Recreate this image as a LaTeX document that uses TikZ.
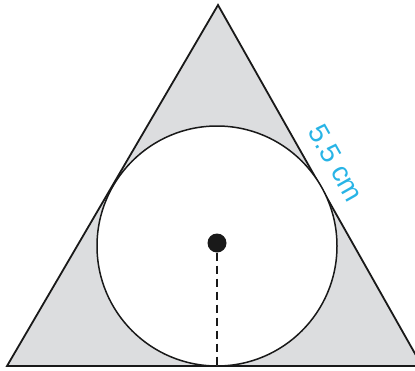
\documentclass[tikz,border=0pt]{standalone}
\usepackage{fontspec}
\setmainfont{Liberation Sans}
\definecolor{tgray}{RGB}{220,221,223}
\definecolor{lblcyan}{RGB}{40,180,230}
\begin{document}
\begin{tikzpicture}[x=1pt,y=-1pt,
  edge/.style={line width=1.8pt,line join=miter,draw=black!90},
  lbl/.style={text=lblcyan,font=\fontsize{28}{30}\selectfont,inner sep=0pt}]
\useasboundingbox (0,0) rectangle (415,370);
\coordinate (A) at (7,366);
\coordinate (B) at (422,366);
\coordinate (C) at (218,5);
\draw[edge,fill=tgray] (A) -- (B) -- (C) -- cycle;
\node[circle,draw=black!90,line width=1.5pt,fill=white,minimum size=240pt,inner sep=0pt] (inc) at (217,246) {};
\node[circle,fill=black!90,minimum size=19pt,inner sep=0pt] (ctr) at (217,243) {};
\coordinate (bot) at (217,366);
\draw[line width=1.5pt,dash pattern=on 8pt off 5pt,draw=black!90] (ctr.south) -- (bot);
\node[lbl,rotate=-60.5] (len) at (336,163) {5.5 cm};
\end{tikzpicture}
\end{document}
